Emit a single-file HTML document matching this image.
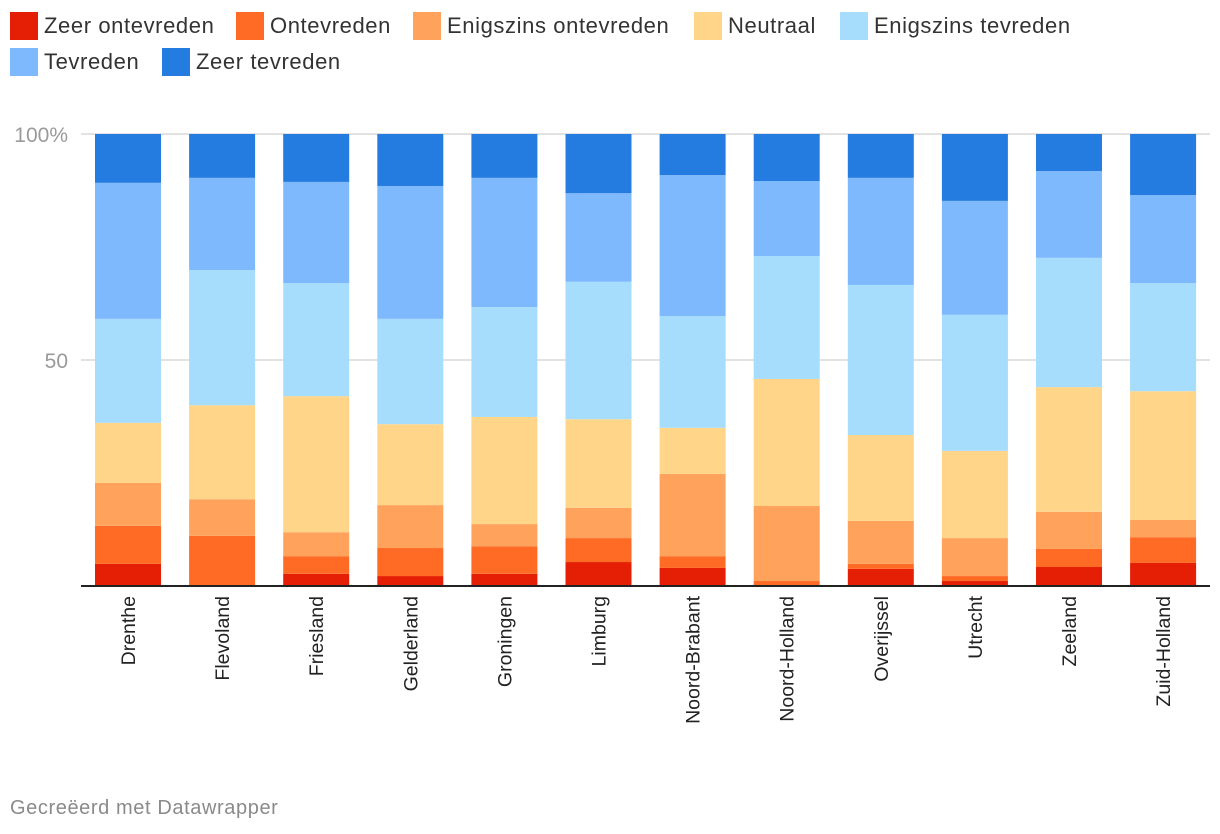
<!DOCTYPE html>
<html><head><meta charset="utf-8"><style>
body{margin:0;background:#fff;font-family:"Liberation Sans",sans-serif;}
#wrap{position:relative;width:1220px;height:834px;overflow:hidden;}
.leg{position:absolute;font-size:22px;letter-spacing:0.6px;color:#333;display:flex;align-items:center;}
.sw{width:28px;height:28px;margin-right:6px;display:inline-block;}
</style></head><body>
<div id="wrap">
<div id="legend"></div>
<svg id="svg" width="1220" height="834" style="position:absolute;left:0;top:0"></svg>
<div style="position:absolute;left:10px;top:797px;font-size:20px;letter-spacing:0.6px;color:#8a8a8a">Gecreëerd met Datawrapper</div>
</div>
<script>
const categories=["Drenthe","Flevoland","Friesland","Gelderland","Groningen","Limburg","Noord-Brabant","Noord-Holland","Overijssel","Utrecht","Zeeland","Zuid-Holland"];
const seriesNames=["Zeer ontevreden","Ontevreden","Enigszins ontevreden","Neutraal","Enigszins tevreden","Tevreden","Zeer tevreden"];
const zeerOntevreden=[4.9,0,2.7,2.2,2.7,5.3,4.0,0,3.8,1.1,4.2,5.1];
const ontevreden=[8.4,11.1,3.9,6.2,6.1,5.3,2.6,1.1,1.1,1.1,4.0,5.7];
const enigszinsOntevreden=[9.5,8.1,5.3,9.5,4.9,6.7,18.2,16.6,9.5,8.4,8.2,3.8];
const neutraal=[13.3,20.8,30.1,17.9,23.7,19.6,10.2,28.1,19.0,19.3,27.6,28.5];
const enigszinsTevreden=[23.0,29.9,25.0,23.3,24.3,30.4,24.7,27.2,33.2,30.1,28.6,23.9];
const tevreden=[30.1,20.4,22.4,29.4,28.6,19.6,31.2,16.6,23.7,25.2,19.2,19.5];
const zeerTevreden=[10.8,9.7,10.6,11.5,9.7,13.1,9.1,10.4,9.7,14.8,8.2,13.5];
const yTicks=[50,100];
const yTickLabels=["50","100%"];
const series=[zeerOntevreden,ontevreden,enigszinsOntevreden,neutraal,enigszinsTevreden,tevreden,zeerTevreden];
const colors=["#e51f05","#ff6a24","#ffa35c","#ffd58a","#a6ddfd","#7fb9fd","#247ce0"];
const NS="http://www.w3.org/2000/svg";
const svg=document.getElementById('svg');
const y0=586,y100=134;
function yS(v){return y0-(y0-y100)*v/100;}
function xS(i){return 95+i*94.1;}
const bw=66;
function mk(t,a){const e=document.createElementNS(NS,t);for(const k in a)e.setAttribute(k,a[k]);svg.appendChild(e);return e;}
yTicks.forEach((t,i)=>{
 const g=mk('line',{x1:81,x2:1210,y1:yS(t),y2:yS(t),stroke:'#e2e2e2','stroke-width':2});
 
 
 const l=mk('text',{x:68,y:yS(t)+8,'text-anchor':'end','font-size':21,fill:'#9a9a9a'});
 l.textContent=yTickLabels[i];
 
 
});
categories.forEach((c,i)=>{
 let cum=0;
 series.forEach((s,j)=>{
  const v=s[i];if(v<=0)return;
  const r=mk('rect',{x:xS(i),y:yS(cum+v),width:bw,height:yS(cum)-yS(cum+v),fill:colors[j]});
  
  
  cum+=v;
 });
 const t=mk('text',{transform:`translate(${xS(i)+bw/2+7},596) rotate(-90)`,'text-anchor':'end','font-size':19.5,fill:'#222'});
 t.textContent=c;
 
 
});
const ax=mk('line',{x1:81,x2:1210,y1:586,y2:586,stroke:'#222','stroke-width':2});


const legPos=[[10,12],[236,12],[413,12],[694,12],[840,12],[10,48],[162,48]];
const lg=document.getElementById('legend');
seriesNames.forEach((n,j)=>{
 const d=document.createElement('div');
 d.className='leg';d.style.left=legPos[j][0]+'px';d.style.top=legPos[j][1]+'px';
 
 
 d.innerHTML=`<span class="sw" style="background:${colors[j]}"></span>${n}`;
 lg.appendChild(d);
});
</script>
</body></html>
